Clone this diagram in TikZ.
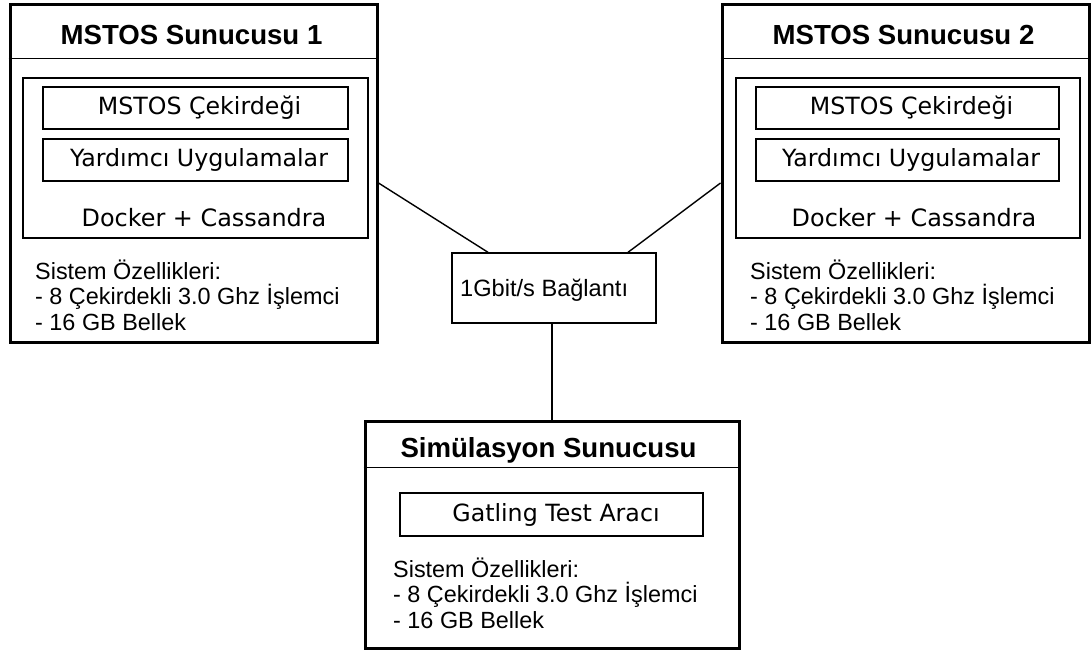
\documentclass[tikz,border=0pt]{standalone}
\usepackage{fontspec}
\setmainfont{Liberation Sans}
\newfontfamily\dejavu{DejaVu Sans}
\begin{document}
\begin{tikzpicture}[x=1pt,y=-1pt,
  server/.style={draw,line width=3pt,rectangle,inner sep=0pt},
  container/.style={draw,line width=1.4pt,rectangle,inner sep=0pt},
  module/.style={draw,line width=1.4pt,rectangle,inner sep=0pt,
    font=\dejavu\fontsize{23.7}{26}\selectfont},
  title/.style={font=\bfseries\fontsize{27.6}{30}\selectfont,inner sep=0pt},
  plain/.style={font=\dejavu\fontsize{23.9}{26}\selectfont,inner sep=0pt},
  specs/.style={font=\fontsize{23.4}{25.5}\selectfont,align=left,anchor=west,inner sep=0pt},
  wire/.style={line width=1.4pt},
  sep/.style={line width=1.6pt}]
\useasboundingbox (0,0) rectangle (1091,650);

% --- server 1 ---
\node[server,minimum width=367pt,minimum height=337pt] (s1) at (193.5,173.5) {};
\node[title] (s1t) at (191.5,35) {MSTOS Sunucusu 1};
\draw[sep] ([yshift=-55pt]s1.north west) -- ([yshift=-55pt]s1.north east);
\node[container,minimum width=345pt,minimum height=160pt] (d1) at (195.5,158) {};
\node[module,minimum width=305pt,minimum height=42pt] (k1) at (195.5,108) {\hspace*{8pt}MSTOS Çekirdeği};
\node[module,minimum width=305pt,minimum height=42pt] (y1) at (195.5,160) {\hspace*{7pt}Yardımcı Uygulamalar};
\node[plain] (c1) at (204,218) {Docker + Cassandra};
\node[specs] (p1) at (35,295) {Sistem Özellikleri:\\- 8 Çekirdekli 3.0 Ghz İşlemci\\- 16 GB Bellek};

% --- server 2 ---
\node[server,minimum width=367pt,minimum height=337pt] (s2) at (905.5,173.5) {};
\node[title] (s2t) at (903.5,35) {MSTOS Sunucusu 2};
\draw[sep] ([yshift=-55pt]s2.north west) -- ([yshift=-55pt]s2.north east);
\node[container,minimum width=344pt,minimum height=160pt] (d2) at (908,158) {};
\node[module,minimum width=303pt,minimum height=42pt] (k2) at (907.5,108) {\hspace*{8pt}MSTOS Çekirdeği};
\node[module,minimum width=303pt,minimum height=42pt] (y2) at (907.5,160) {\hspace*{7pt}Yardımcı Uygulamalar};
\node[plain] (c2) at (914,218) {Docker + Cassandra};
\node[specs] (p2) at (750,295) {Sistem Özellikleri:\\- 8 Çekirdekli 3.0 Ghz İşlemci\\- 16 GB Bellek};

% --- network link ---
\node[container,minimum width=204pt,minimum height=70pt] (link) at (554,288) {};
\node[font=\fontsize{23.6}{26}\selectfont,anchor=west,inner sep=0pt] (lt) at (460,290) {1Gbit/s Bağlantı};

% --- simulation server ---
\node[server,minimum width=374pt,minimum height=227pt] (sim) at (552,534.5) {};
\node[title] (simt) at (548.5,450) {Simülasyon Sunucusu};
\draw[sep] ([yshift=-48pt]sim.north west) -- ([yshift=-48pt]sim.north east);
\node[module,minimum width=303pt,minimum height=43pt] (g) at (551.5,514.5) {\hspace*{9pt}Gatling Test Aracı};
\node[specs] (p3) at (393,593) {Sistem Özellikleri:\\- 8 Çekirdekli 3.0 Ghz İşlemci\\- 16 GB Bellek};

% --- connectors ---
\draw[wire] ([yshift=-9.5pt]s1.east) -- ([xshift=-66pt]link.north);
\draw[wire] ([yshift=-9.5pt]s2.west) -- ([xshift=74pt]link.north);
\draw[wire] (sim.north) -- (sim.north |- link.south);
\end{tikzpicture}
\end{document}
